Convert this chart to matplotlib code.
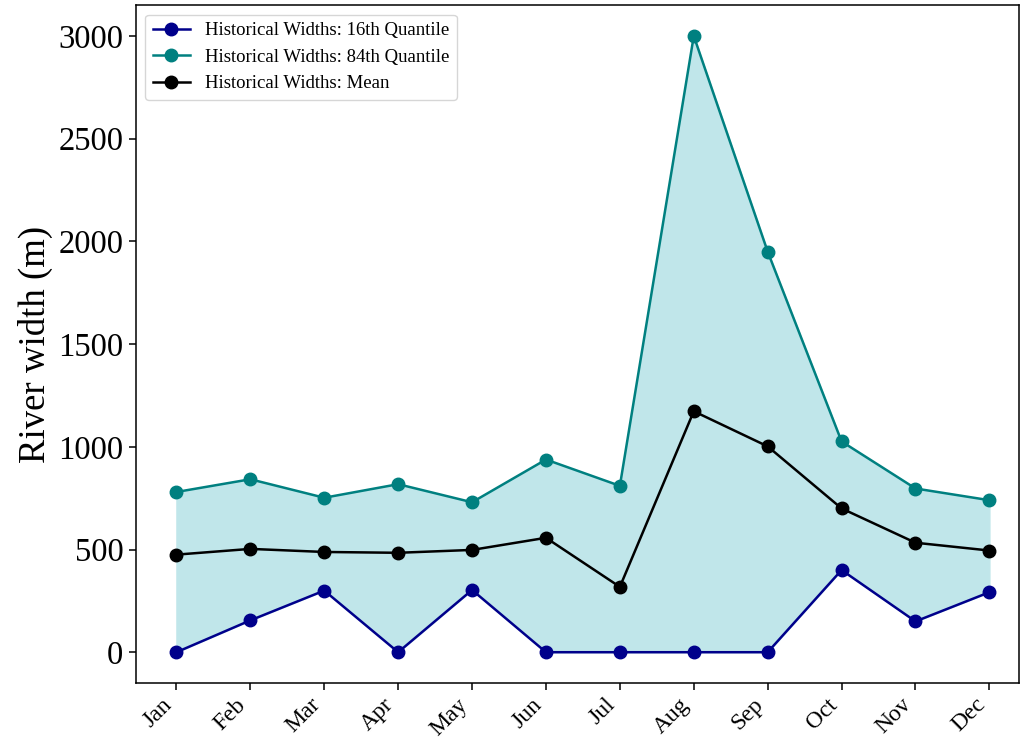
import numpy as np
import matplotlib
matplotlib.use("Agg")
import matplotlib.pyplot as plt

plt.rcParams['font.family'] = ['Liberation Serif', 'DejaVu Serif']

# 월별 하천 폭 (m)
months = ["Jan", "Feb", "Mar", "Apr", "May", "Jun",
          "Jul", "Aug", "Sep", "Oct", "Nov", "Dec"]
q16 = [0, 155, 300, 0, 303, 0, 0, 0, 0, 400, 150, 292]
q84 = [780, 842, 752, 818, 730, 938, 810, 3000, 1950, 1026, 797, 740]
mean_w = [475, 503, 488, 484, 498, 557, 318, 1173, 1002, 700, 533, 495]

x = np.arange(len(months))

fig, ax = plt.subplots(figsize=(10.21, 7.4), dpi=100)
ax.fill_between(x, q16, q84, color='#c0e6ea')
ax.plot(x, q16, '-o', color='darkblue', lw=1.8, markersize=9, label='Historical Widths: 16th Quantile')
ax.plot(x, q84, '-o', color='teal', lw=1.8, markersize=9, label='Historical Widths: 84th Quantile')
ax.plot(x, mean_w, '-o', color='black', lw=1.8, markersize=9, label='Historical Widths: Mean')

ax.set_xticks(x)
ax.set_xticklabels(months, rotation=45, ha='right', fontsize=17)
ax.tick_params(axis='y', labelsize=23.5)
ax.tick_params(length=5, width=1.1, pad=4)
ax.tick_params(axis='x', pad=3)
for s in ax.spines.values():
    s.set_linewidth(1.1)
ax.set_ylabel('River width (m)', fontsize=26.5)
ax.set_xlim(-0.55, 11.4)
ax.set_ylim(-150, 3150)
ax.legend(loc='upper left', fontsize=13.5, handlelength=2.0)

plt.subplots_adjust(left=0.133, right=0.998, top=0.993, bottom=0.077)
plt.savefig('out.png', dpi=100)
